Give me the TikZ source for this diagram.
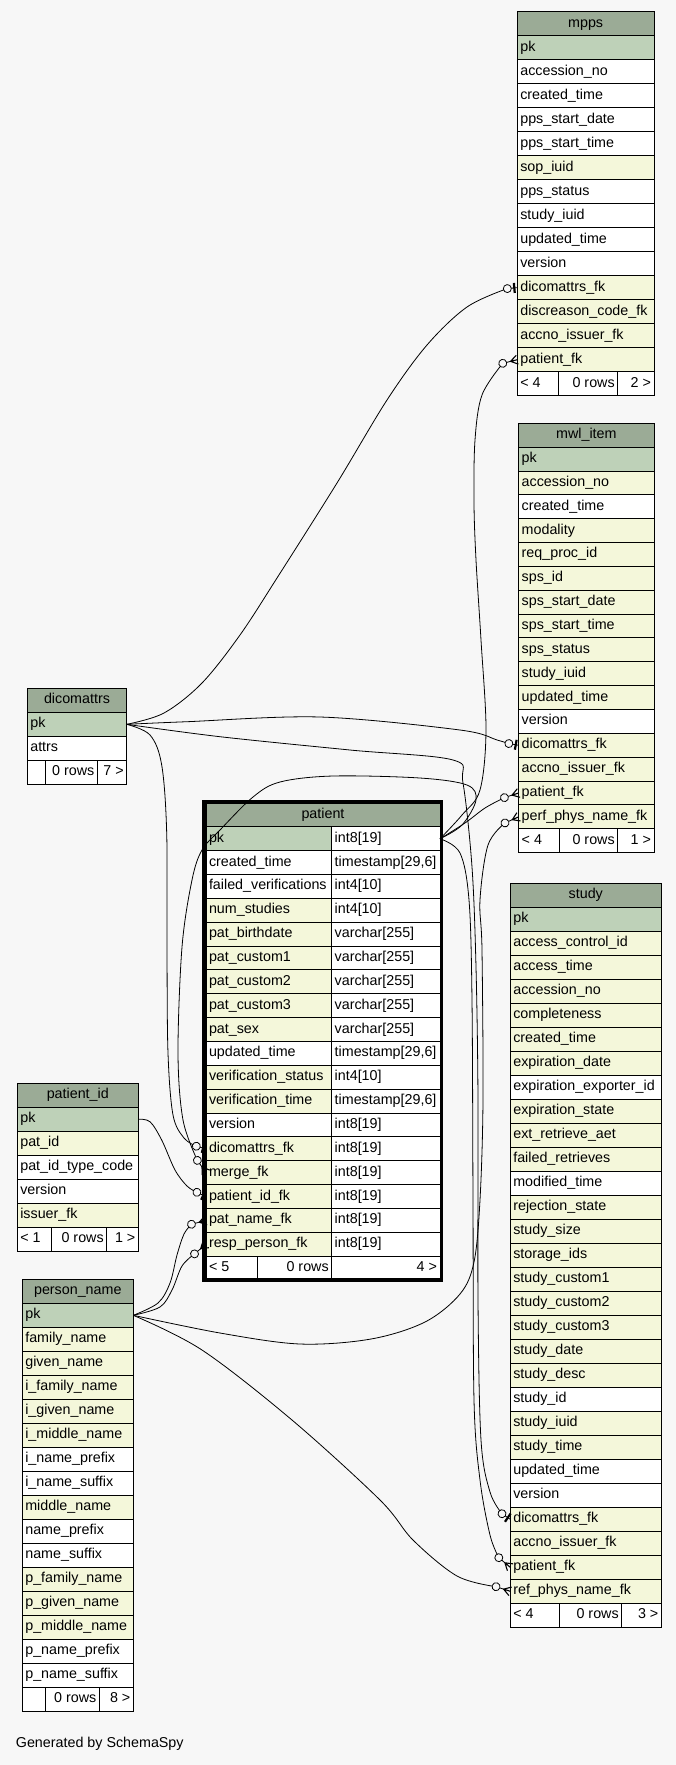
\documentclass[tikz,border=0pt]{standalone}
\usepackage{fontspec}
\setmainfont{Liberation Sans}
\usetikzlibrary{calc}
\definecolor{bg}{HTML}{F7F7F7}
\definecolor{hdr}{HTML}{9BAB96}
\definecolor{pkc}{HTML}{BED1B8}
\definecolor{idx}{HTML}{F4F7DA}
\tikzset{
  cell/.style={draw=black, line width=1pt, inner xsep=3pt, inner ysep=0pt, outer sep=0pt,
    minimum height=#1pt, anchor=north west, text height=10.5pt, text depth=3.5pt,
    font=\fontsize{14.3}{17}\selectfont},
  conn/.style={draw=black, line width=0.8pt},
  teeodot/.pic={\draw[line width=0.8pt] (0,0) -- (-6,0);
    \draw[line width=2.2pt] (-3,-5) -- (-3,5);
    \draw[line width=0.8pt, fill=bg] (-10,0) circle[radius=4pt];},
  crowodot/.pic={\draw[line width=0.8pt] (-7,0) -- (-11,0);
    \draw[line width=1.1pt] (0,-4.5) -- (-7,0) -- (0,4.5) (-7,0) -- (0,0);
    \draw[line width=0.8pt, fill=bg] (-15,0) circle[radius=4pt];}
}
\newcommand{\dbtable}[7]{%
  \node[cell=#5, fill=hdr, minimum width=#4pt] (#1-head) at (#2,#3) {\makebox[\dimexpr#4pt-6pt\relax][c]{#6}};
  \foreach \lab/\col/\key [count=\i] in {#7} {
    \node[cell=#5, fill=\col, minimum width=#4pt] (#1-\key) at (#2,{#3+#5*\i}) {\makebox[\dimexpr#4pt-6pt\relax][l]{\lab}};
  }%
}
\newcommand{\fcell}[7]{%
  \node[cell=#5, fill=white, minimum width=#4pt] (#1) at (#2,#3) {\makebox[\dimexpr#4pt-6pt\relax][#6]{#7}};%
}
% circle-centre coordinate of a connector end: #1 name, #2 row node, #3 distance, #4 angle (positive = below)
\newcommand{\fkend}[4]{\coordinate (#1) at ($(#2.west)+({-#3*cos(#4)},{#3*sin(#4)})$);}
\begin{document}
\begin{tikzpicture}[x=1pt,y=-1pt]
\useasboundingbox (0,0) rectangle (676,1765);
\fill[bg] (0,0) rectangle (676,1765);

% ---------- mpps ----------
\dbtable{mpps}{517.3}{11.7}{136.7}{24}{mpps}{pk/pkc/pk, accession\_no/white/r1, created\_time/white/r2, pps\_start\_date/white/r3, pps\_start\_time/white/r4, sop\_iuid/idx/r5, pps\_status/white/r6, study\_iuid/white/r7, updated\_time/white/r8, version/white/r9, dicomattrs\_fk/idx/dicfk, discreason\_code\_fk/idx/discfk, accno\_issuer\_fk/idx/accfk, patient\_fk/idx/patfk}
\fcell{mpps-f1}{517.3}{371.7}{41}{24}{l}{< 4}
\fcell{mpps-f2}{558.3}{371.7}{59.4}{24}{r}{0 rows}
\fcell{mpps-f3}{617.7}{371.7}{36.3}{24}{r}{2 >}

% ---------- mwl_item ----------
\dbtable{mwl}{518.7}{423.3}{135.3}{23.85}{mwl\_item}{pk/pkc/pk, accession\_no/idx/r1, created\_time/white/r2, modality/idx/r3, req\_proc\_id/idx/r4, sps\_id/idx/r5, sps\_start\_date/idx/r6, sps\_start\_time/idx/r7, sps\_status/idx/r8, study\_iuid/idx/r9, updated\_time/idx/r10, version/white/r11, dicomattrs\_fk/idx/dicfk, accno\_issuer\_fk/idx/accfk, patient\_fk/idx/patfk, perf\_phys\_name\_fk/idx/physfk}
\fcell{mwl-f1}{518.7}{828.75}{40.6}{23.85}{l}{< 4}
\fcell{mwl-f2}{559.3}{828.75}{58.4}{23.85}{r}{0 rows}
\fcell{mwl-f3}{617.7}{828.75}{36.3}{23.85}{r}{1 >}

% ---------- study ----------
\dbtable{study}{510.3}{883.3}{151}{24}{study}{pk/pkc/pk, access\_control\_id/idx/r1, access\_time/idx/r2, accession\_no/idx/r3, completeness/idx/r4, created\_time/idx/r5, expiration\_date/idx/r6, expiration\_exporter\_id/white/r7, expiration\_state/idx/r8, ext\_retrieve\_aet/idx/r9, failed\_retrieves/idx/r10, modified\_time/white/r11, rejection\_state/idx/r12, study\_size/idx/r13, storage\_ids/idx/r14, study\_custom1/idx/r15, study\_custom2/idx/r16, study\_custom3/idx/r17, study\_date/idx/r18, study\_desc/idx/r19, study\_id/white/r20, study\_iuid/idx/r21, study\_time/idx/r22, updated\_time/white/r23, version/white/r24, dicomattrs\_fk/idx/dicfk, accno\_issuer\_fk/idx/accfk, patient\_fk/idx/patfk, ref\_phys\_name\_fk/idx/physfk}
\fcell{study-f1}{510.3}{1603.3}{49}{24}{l}{< 4}
\fcell{study-f2}{559.3}{1603.3}{62.4}{24}{r}{0 rows}
\fcell{study-f3}{621.7}{1603.3}{39.6}{24}{r}{3 >}

% ---------- dicomattrs ----------
\dbtable{dic}{27.3}{688.3}{99.4}{24}{dicomattrs}{pk/pkc/pk, attrs/white/r1}
\fcell{dic-f1}{27.3}{760.3}{18}{24}{l}{}
\fcell{dic-f2}{45.3}{760.3}{52}{24}{r}{0 rows}
\fcell{dic-f3}{97.3}{760.3}{29.4}{24}{r}{7 >}

% ---------- patient_id ----------
\dbtable{pid}{17.3}{1083.3}{121}{24}{patient\_id}{pk/pkc/pk, pat\_id/idx/r1, pat\_id\_type\_code/white/r2, version/white/r3, issuer\_fk/idx/r4}
\fcell{pid-f1}{17.3}{1227.3}{33.7}{24}{l}{< 1}
\fcell{pid-f2}{51}{1227.3}{55.7}{24}{r}{0 rows}
\fcell{pid-f3}{106.7}{1227.3}{31.6}{24}{r}{1 >}

% ---------- person_name ----------
\dbtable{pn}{22.3}{1279.3}{111}{24}{person\_name}{pk/pkc/pk, family\_name/idx/r1, given\_name/idx/r2, i\_family\_name/idx/r3, i\_given\_name/idx/r4, i\_middle\_name/idx/r5, i\_name\_prefix/white/r6, i\_name\_suffix/white/r7, middle\_name/idx/r8, name\_prefix/white/r9, name\_suffix/white/r10, p\_family\_name/idx/r11, p\_given\_name/idx/r12, p\_middle\_name/idx/r13, p\_name\_prefix/white/r14, p\_name\_suffix/white/r15}
\fcell{pn-f1}{22.3}{1687.3}{23}{24}{l}{}
\fcell{pn-f2}{45.3}{1687.3}{54}{24}{r}{0 rows}
\fcell{pn-f3}{99.3}{1687.3}{34}{24}{r}{8 >}

% ---------- patient ----------
\node[cell=23.85, fill=hdr, minimum width=234pt] (pat-head) at (206,803) {\makebox[228pt][c]{patient}};
\foreach \lab/\col/\key/\typ [count=\i] in {pk/pkc/pk/{int8[19]}, created\_time/white/r1/{timestamp[29,6]}, failed\_verifications/white/r2/{int4[10]}, num\_studies/idx/r3/{int4[10]}, pat\_birthdate/idx/r4/{varchar[255]}, pat\_custom1/idx/r5/{varchar[255]}, pat\_custom2/idx/r6/{varchar[255]}, pat\_custom3/idx/r7/{varchar[255]}, pat\_sex/idx/r8/{varchar[255]}, updated\_time/white/r9/{timestamp[29,6]}, verification\_status/idx/r10/{int4[10]}, verification\_time/idx/r11/{timestamp[29,6]}, version/white/r12/{int8[19]}, dicomattrs\_fk/idx/dicfk/{int8[19]}, merge\_fk/idx/mergefk/{int8[19]}, patient\_id\_fk/idx/pidfk/{int8[19]}, pat\_name\_fk/idx/namefk/{int8[19]}, resp\_person\_fk/idx/respfk/{int8[19]}} {
  \node[cell=23.85, fill=\col, minimum width=125.7pt] (pat-\key) at (206,{803+23.85*\i}) {\makebox[119.7pt][l]{\lab}};
  \node[cell=23.85, fill=white, minimum width=108.3pt] (pat-\key-t) at (331.7,{803+23.85*\i}) {\makebox[102.3pt][l]{\typ}};
}
\fcell{pat-f1}{206}{1256.15}{51.7}{23.85}{l}{< 5}
\fcell{pat-f2}{257.7}{1256.15}{74}{23.85}{r}{0 rows}
\fcell{pat-f3}{331.7}{1256.15}{108.3}{23.85}{r}{4 >}
\draw[line width=3.5pt] (204.2,801.8) rectangle (441.6,1280);

% ---------- connector end points (circle centres) ----------
\fkend{e1}{mpps-dicfk}{10}{5}
\fkend{e2}{mpps-patfk}{15}{14}
\fkend{e3}{mwl-patfk}{15}{18}
\fkend{e4}{mwl-dicfk}{10}{-10}
\fkend{e5}{mwl-physfk}{15}{24}
\fkend{e6}{study-dicfk}{10}{-34}
\fkend{e7}{study-patfk}{15}{-40}
\fkend{e8}{study-physfk}{15}{-18}
\fkend{e9}{pat-dicfk}{10}{-15}
\fkend{e10}{pat-mergefk}{15}{-55}
\fkend{e11}{pat-pidfk}{10}{-25}
\fkend{e12}{pat-namefk}{15}{15}
\fkend{e13}{pat-respfk}{15}{40}

% ---------- connectors ----------
\draw[conn] plot[smooth,tension=0.55] coordinates {(dic-pk.east) (164,713) (202,683) (240,635) (277,578) (337,483) (387,400) (427,345) (467,307) (e1)};
\draw[conn] plot[smooth,tension=0.55] coordinates {(pat-pk-t.east) (462,815) (480,790) (486,730) (481,640) (476,560) (474,503) (475,440) (482,395) (e2)};
\draw[conn] plot[smooth,tension=0.55] coordinates {(pat-pk-t.east) (465,823) (485,808) (e3)};
\draw[conn] plot[smooth,tension=0.55] coordinates {(dic-pk.east) (187,721.7) (320,717) (460,730) (497,740) (e4)};
\draw[conn] plot[smooth,tension=0.55] coordinates {(pn-pk.east) (220,1333) (300,1344) (371,1339) (425,1322) (460,1294) (474,1262) (480,1200) (483,1100) (482,950) (480,900) (488,845) (e5)};
\draw[conn] plot[smooth,tension=0.55] coordinates {(dic-pk.east) (220,736.7) (350,750) (453,760) (463,783) (472,867) (476,967) (478,1100) (478,1300) (481,1440) (490,1492) (e6)};
\draw[conn] plot[smooth,tension=0.55] coordinates {(pat-pk-t.east) (460,853) (469,900) (472,1000) (473,1200) (474,1400) (480,1480) (490,1535) (e7)};
\draw[conn] plot[smooth,tension=0.55] coordinates {(pn-pk.east) (202,1350) (292,1420) (380,1500) (413,1540) (457,1576) (e8)};
\draw[conn] plot[smooth,tension=0.55] coordinates {(dic-pk.east) (150,735) (161.7,765) (166.7,833) (167,950) (168,1053) (173,1115) (184,1138) (e9)};
\draw[conn] plot[smooth,tension=0.55] coordinates {(pat-pk-t.east) (462,825) (476,800) (467,785) (420,778) (333,776) (280,782) (253,797) (220,830) (202,850) (192,880) (182,947) (178,1053) (183,1120) (e10)};
\draw[conn] plot[smooth,tension=0.55] coordinates {(pid-pk.east) (150,1121.7) (161.7,1140) (175,1170) (187,1186) (e11)};
\draw[conn] plot[smooth,tension=0.55] coordinates {(pn-pk.east) (158,1303) (170,1283) (177,1255) (184,1234) (e12)};
\draw[conn] plot[smooth,tension=0.55] coordinates {(pn-pk.east) (160,1307) (172,1290) (182,1266) (e13)};

% ---------- connector ends ----------
\pic[rotate=5] at (mpps-dicfk.west) {teeodot};
\pic[rotate=14] at (mpps-patfk.west) {crowodot};
\pic[rotate=18] at (mwl-patfk.west) {crowodot};
\pic[rotate=-10] at (mwl-dicfk.west) {teeodot};
\pic[rotate=24] at (mwl-physfk.west) {crowodot};
\pic[rotate=-34] at (study-dicfk.west) {teeodot};
\pic[rotate=-40] at (study-patfk.west) {crowodot};
\pic[rotate=-18] at (study-physfk.west) {crowodot};
\pic[rotate=-15] at (pat-dicfk.west) {teeodot};
\pic[rotate=-55] at (pat-mergefk.west) {crowodot};
\pic[rotate=-25] at (pat-pidfk.west) {teeodot};
\pic[rotate=15] at (pat-namefk.west) {crowodot};
\pic[rotate=40] at (pat-respfk.west) {crowodot};

\node[anchor=base west, inner sep=0pt, font=\fontsize{14.3}{17}\selectfont] (gen) at (15.7,1747.5) {Generated by SchemaSpy};
\end{tikzpicture}
\end{document}
